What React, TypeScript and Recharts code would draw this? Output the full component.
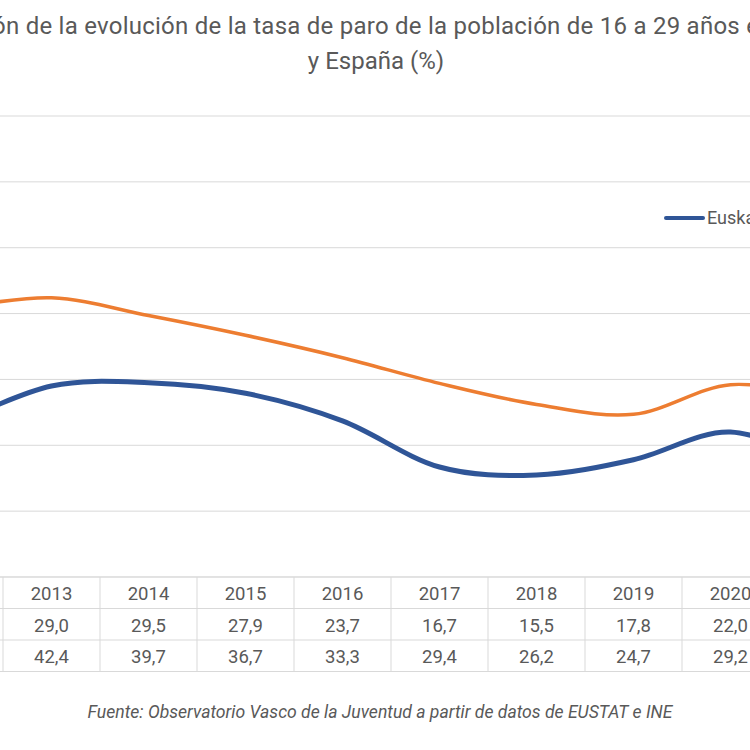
import { CartesianGrid, Legend, Line, LineChart, XAxis, YAxis } from "recharts";

// visible window is a crop of a wider Excel chart: 2012 and 2021 sit just outside
const years = ["2012", "2013", "2014", "2015", "2016", "2017", "2018", "2019", "2020", "2021"];
const euskadi = [23.3, 29.0, 29.5, 27.9, 23.7, 16.7, 15.5, 17.8, 22.0, 16.8];
const espana = [40.8, 42.4, 39.7, 36.7, 33.3, 29.4, 26.2, 24.7, 29.2, 27.1];
const yTicks = [0, 10, 20, 30, 40, 50, 60, 70];
const seriesNames = ["Euskadi", "España"];

const titleLine1 = "Comparación de la evolución de la tasa de paro de la población de 16 a 29 años en Euskadi";
const titleLine2 = "y España (%)";
const source = "Fuente: Observatorio Vasco de la Juventud a partir de datos de EUSTAT e INE";

const data = years.map((year, i) => ({ i, year, euskadi: euskadi[i], espana: espana[i] }));

const BLUE = "#2F5597";
const ORANGE = "#ED7D31";
const GRID = "#D9D9D9";
const TEXT = "#595959";
const FONT = "Roboto, 'Liberation Sans', sans-serif";

const CHART_W = 970;
const STEP = CHART_W / years.length;
const ROW = 31.5;
const CHART_LEFT = -93.7;

function fmt(v: number): string {
  return v.toFixed(1).replace(".", ",");
}

// excel-like smoothing (catmull-rom, control points at 1/6)
function excelSmooth(context: any) {
  let pts: [number, number][] = [];
  return {
    areaStart() {},
    areaEnd() {},
    lineStart() {
      pts = [];
    },
    point(x: number, y: number) {
      pts.push([+x, +y]);
    },
    lineEnd() {
      if (!pts.length) return;
      context.moveTo(pts[0][0], pts[0][1]);
      for (let k = 0; k < pts.length - 1; k++) {
        const p0 = pts[k - 1] || pts[k];
        const p1 = pts[k];
        const p2 = pts[k + 1];
        const p3 = pts[k + 2] || p2;
        context.bezierCurveTo(
          p1[0] + (p2[0] - p0[0]) / 6,
          p1[1] + (p2[1] - p0[1]) / 6,
          p2[0] - (p3[0] - p1[0]) / 6,
          p2[1] - (p3[1] - p1[1]) / 6,
          p2[0],
          p2[1]
        );
      }
    },
  };
}

function TableTick({ x, y, payload }: any) {
  const i = payload.value as number;
  const left = x - STEP / 2;
  const textProps = { textAnchor: "middle" as const, fill: TEXT, fontSize: 18.5, fontFamily: FONT };
  return (
    <g>
      {[0, 1, 2, 3].map((r) => (
        <line key={r} x1={left} x2={left + STEP} y1={y + r * ROW} y2={y + r * ROW} stroke={GRID} strokeWidth={1} />
      ))}
      <line x1={left} x2={left} y1={y} y2={y + 3 * ROW} stroke={GRID} strokeWidth={1} />
      <text x={x} y={y + 23} {...textProps}>{years[i]}</text>
      <text x={x} y={y + 23 + ROW} {...textProps}>{fmt(euskadi[i])}</text>
      <text x={x} y={y + 23 + 2 * ROW} {...textProps}>{fmt(espana[i])}</text>
    </g>
  );
}

function LegendContent({ payload }: any) {
  // keep series order (recharts sorts the payload by name)
  const items = [...(payload || [])].sort(
    (a: any, b: any) => seriesNames.indexOf(a.value) - seriesNames.indexOf(b.value)
  );
  return (
    <div style={{ display: "flex", alignItems: "center", whiteSpace: "nowrap" }}>
      {items.map((entry: any) => (
        <div key={entry.value} style={{ display: "flex", alignItems: "center", marginRight: 24 }}>
          <span
            style={{
              display: "inline-block",
              width: 41,
              height: 4.5,
              borderRadius: 2.25,
              background: entry.color,
              marginRight: 2,
            }}
          />
          <span style={{ fontFamily: FONT, fontSize: 18, lineHeight: "24px", color: TEXT }}>{entry.value}</span>
        </div>
      ))}
    </div>
  );
}

const titleStyle = {
  position: "absolute" as const,
  transform: "translateX(-50%)",
  whiteSpace: "nowrap" as const,
  fontSize: 24,
  lineHeight: "35px",
  color: TEXT,
};

export default function App() {
  return (
    <div
      style={{
        position: "fixed",
        left: 0,
        top: 0,
        width: 750,
        height: 750,
        overflow: "hidden",
        background: "#fff",
        fontFamily: FONT,
      }}
    >
      <div style={{ ...titleStyle, left: 369, top: 9, letterSpacing: 0.245 }}>{titleLine1}</div>
      <div style={{ ...titleStyle, left: 376, top: 44 }}>{titleLine2}</div>

      <div style={{ position: "absolute", left: CHART_LEFT, top: 0 }}>
        <LineChart width={CHART_W} height={750} data={data} margin={{ top: 116, right: 0, bottom: 0, left: 0 }}>
          <CartesianGrid horizontal vertical={false} stroke={GRID} strokeWidth={1} />
          <XAxis
            dataKey="i"
            type="number"
            domain={[-0.5, years.length - 0.5]}
            ticks={years.map((_, i) => i)}
            interval={0}
            height={173}
            tickSize={0}
            tickMargin={0}
            tickLine={false}
            axisLine={false}
            tick={<TableTick />}
          />
          <YAxis hide domain={[0, 70]} ticks={yTicks} width={0} />
          <Legend
            layout="horizontal"
            verticalAlign="middle"
            align="center"
            content={<LegendContent />}
            wrapperStyle={{ top: 206, left: 664 - CHART_LEFT, width: "auto", height: 24 }}
          />
          <Line
            name={seriesNames[0]}
            dataKey="euskadi"
            type={excelSmooth as any}
            stroke={BLUE}
            strokeWidth={5}
            strokeLinecap="round"
            dot={false}
            activeDot={false}
            isAnimationActive={false}
          />
          <Line
            name={seriesNames[1]}
            dataKey="espana"
            type={excelSmooth as any}
            stroke={ORANGE}
            strokeWidth={3.5}
            strokeLinecap="round"
            dot={false}
            activeDot={false}
            isAnimationActive={false}
          />
        </LineChart>
      </div>

      <div
        style={{
          position: "absolute",
          left: 380,
          top: 702,
          transform: "translateX(-50%)",
          whiteSpace: "nowrap",
          fontSize: 17.6,
          lineHeight: "20px",
          fontStyle: "italic",
          color: TEXT,
        }}
      >
        {source}
      </div>
    </div>
  );
}
